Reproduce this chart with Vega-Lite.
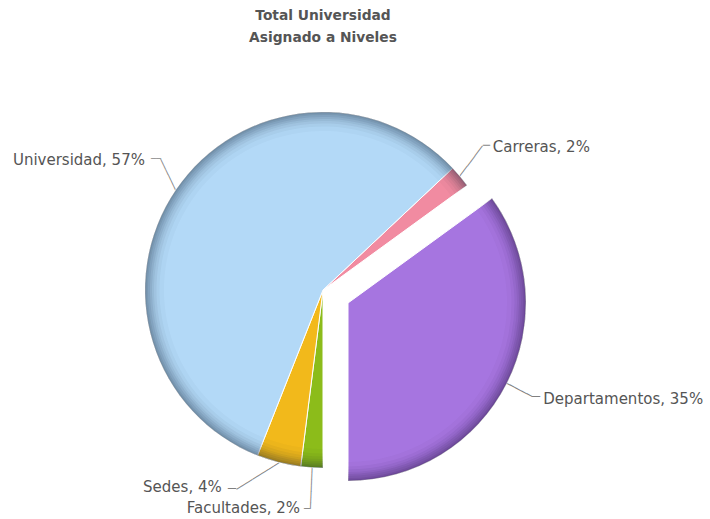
{
  "$schema": "https://vega.github.io/schema/vega-lite/v6.json",
  "width": 646,
  "height": 480,
  "autosize": {"type": "none"},
  "padding": {"left": 0, "top": 50, "right": 64, "bottom": 0},
  "background": "#ffffff",
  "config": {"view": {"stroke": null}, "text": {"font": "DejaVu Sans"}},
  "title": {
    "text": ["Total Universidad", "Asignado a Niveles"],
    "font": "DejaVu Sans",
    "fontSize": 13.8,
    "fontWeight": "bold",
    "color": "#555555",
    "lineHeight": 22,
    "anchor": "middle",
    "frame": "group",
    "baseline": "bottom",
    "offset": -9
  },
  "data": {
    "values": [
      {"name": "Carreras", "value": 2, "label": "Carreras, 2%"},
      {"name": "Departamentos", "value": 35, "label": "Departamentos, 35%"},
      {"name": "Facultades", "value": 2, "label": "Facultades, 2%"},
      {"name": "Sedes", "value": 4, "label": "Sedes, 4%"},
      {"name": "Universidad", "value": 57, "label": "Universidad, 57%"}
    ]
  },
  "encoding": {
    "theta": {"field": "value", "type": "quantitative", "stack": true, "scale": {"domain": [0, 100], "range": [0.8168, 7.0999]}},
    "order": {"field": "name", "type": "ordinal", "sort": "ascending"}
  },
  "layer": [
    {
      "mark": {"type": "text", "radius": 178, "align": "left", "baseline": "middle", "color": "#808080"},
      "encoding": {
        "text": {"condition": [
          {"test": "datum.name==='Universidad'", "value": "──────"},
          {"test": "datum.name==='Carreras'", "value": "──────"},
          {"test": "datum.name==='Departamentos'", "value": "─────────"},
          {"test": "datum.name==='Sedes'", "value": "────────"},
          {"test": "datum.name==='Facultades'", "value": "───────"}
        ], "value": ""},
        "angle": {"condition": [
          {"test": "datum.name==='Universidad'", "value": 244.4},
          {"test": "datum.name==='Carreras'", "value": 306.9},
          {"test": "datum.name==='Departamentos'", "value": 27.5},
          {"test": "datum.name==='Sedes'", "value": 148.1}
        ], "value": 92.5},
        "size": {"condition": [
          {"test": "datum.name==='Universidad'", "value": 9.5},
          {"test": "datum.name==='Carreras'", "value": 10.5},
          {"test": "datum.name==='Departamentos'", "value": 10.5},
          {"test": "datum.name==='Sedes'", "value": 10.4}
        ], "value": 9.8}
      }
    },
    {
      "mark": {"type": "arc", "radius": 178, "stroke": "#ffffff", "strokeWidth": 1},
      "encoding": {
        "color": {"field": "name", "type": "nominal", "legend": null,
          "scale": {"domain": ["Carreras", "Departamentos", "Facultades", "Sedes", "Universidad"],
                    "range": ["#f18ba1", "#a675e0", "#8cbc1a", "#f2b91b", "#b3d9f7"]}},
        "opacity": {"condition": {"test": "datum.name==='Departamentos'", "value": 0}, "value": 1}
      }
    },
    {
      "mark": {"type": "arc", "radius": 178, "stroke": "#ffffff", "strokeWidth": 1, "xOffset": 25, "yOffset": 13},
      "encoding": {
        "color": {"field": "name", "type": "nominal", "legend": null},
        "opacity": {"condition": {"test": "datum.name==='Departamentos'", "value": 1}, "value": 0}
      }
    },
    {"mark": {"type": "arc", "radius": 178, "radius2": 176.5, "fill": "#102038"},
     "encoding": {"opacity": {"condition": {"test": "datum.name==='Departamentos'", "value": 0}, "value": 0.09}}},
    {"mark": {"type": "arc", "radius": 178, "radius2": 175, "fill": "#102038"},
     "encoding": {"opacity": {"condition": {"test": "datum.name==='Departamentos'", "value": 0}, "value": 0.08}}},
    {"mark": {"type": "arc", "radius": 178, "radius2": 173, "fill": "#102038"},
     "encoding": {"opacity": {"condition": {"test": "datum.name==='Departamentos'", "value": 0}, "value": 0.075}}},
    {"mark": {"type": "arc", "radius": 178, "radius2": 171, "fill": "#102038"},
     "encoding": {"opacity": {"condition": {"test": "datum.name==='Departamentos'", "value": 0}, "value": 0.07}}},
    {"mark": {"type": "arc", "radius": 178, "radius2": 169, "fill": "#102038"},
     "encoding": {"opacity": {"condition": {"test": "datum.name==='Departamentos'", "value": 0}, "value": 0.06}}},
    {"mark": {"type": "arc", "radius": 178, "radius2": 166.5, "fill": "#102038"},
     "encoding": {"opacity": {"condition": {"test": "datum.name==='Departamentos'", "value": 0}, "value": 0.05}}},
    {"mark": {"type": "arc", "radius": 178, "radius2": 163.5, "fill": "#102038"},
     "encoding": {"opacity": {"condition": {"test": "datum.name==='Departamentos'", "value": 0}, "value": 0.04}}},
    {"mark": {"type": "arc", "radius": 178, "radius2": 159, "fill": "#102038"},
     "encoding": {"opacity": {"condition": {"test": "datum.name==='Departamentos'", "value": 0}, "value": 0.025}}},
    {"mark": {"type": "arc", "radius": 178, "radius2": 176.5, "fill": "#180c30", "xOffset": 25, "yOffset": 13},
     "encoding": {"opacity": {"condition": {"test": "datum.name==='Departamentos'", "value": 0.09}, "value": 0}}},
    {"mark": {"type": "arc", "radius": 178, "radius2": 175, "fill": "#180c30", "xOffset": 25, "yOffset": 13},
     "encoding": {"opacity": {"condition": {"test": "datum.name==='Departamentos'", "value": 0.08}, "value": 0}}},
    {"mark": {"type": "arc", "radius": 178, "radius2": 173, "fill": "#180c30", "xOffset": 25, "yOffset": 13},
     "encoding": {"opacity": {"condition": {"test": "datum.name==='Departamentos'", "value": 0.075}, "value": 0}}},
    {"mark": {"type": "arc", "radius": 178, "radius2": 171, "fill": "#180c30", "xOffset": 25, "yOffset": 13},
     "encoding": {"opacity": {"condition": {"test": "datum.name==='Departamentos'", "value": 0.07}, "value": 0}}},
    {"mark": {"type": "arc", "radius": 178, "radius2": 169, "fill": "#180c30", "xOffset": 25, "yOffset": 13},
     "encoding": {"opacity": {"condition": {"test": "datum.name==='Departamentos'", "value": 0.06}, "value": 0}}},
    {"mark": {"type": "arc", "radius": 178, "radius2": 166.5, "fill": "#180c30", "xOffset": 25, "yOffset": 13},
     "encoding": {"opacity": {"condition": {"test": "datum.name==='Departamentos'", "value": 0.05}, "value": 0}}},
    {"mark": {"type": "arc", "radius": 178, "radius2": 163.5, "fill": "#180c30", "xOffset": 25, "yOffset": 13},
     "encoding": {"opacity": {"condition": {"test": "datum.name==='Departamentos'", "value": 0.04}, "value": 0}}},
    {"mark": {"type": "arc", "radius": 178, "radius2": 159, "fill": "#180c30", "xOffset": 25, "yOffset": 13},
     "encoding": {"opacity": {"condition": {"test": "datum.name==='Departamentos'", "value": 0.025}, "value": 0}}},
    {"mark": {"type": "text", "radius": 178, "align": "left", "baseline": "middle", "color": "#808080", "fontSize": 8.3, "dx": -24.8, "dy": -30.9},
     "encoding": {"text": {"condition": {"test": "datum.name==='Universidad'", "value": "──"}, "value": ""}}},
    {"mark": {"type": "text", "radius": 178, "align": "left", "baseline": "middle", "color": "#808080", "fontSize": 11.6, "dx": 22.9, "dy": -30.5},
     "encoding": {"text": {"condition": {"test": "datum.name==='Carreras'", "value": "─"}, "value": ""}}},
    {"mark": {"type": "text", "radius": 178, "align": "left", "baseline": "middle", "color": "#808080", "fontSize": 13.3, "dx": 50.4, "dy": 26.2},
     "encoding": {"text": {"condition": {"test": "datum.name==='Departamentos'", "value": "─"}, "value": ""}}},
    {"mark": {"type": "text", "radius": 178, "align": "left", "baseline": "middle", "color": "#808080", "fontSize": 13.3, "dx": -50.7, "dy": 26.6},
     "encoding": {"text": {"condition": {"test": "datum.name==='Sedes'", "value": "─"}, "value": ""}}},
    {"mark": {"type": "text", "radius": 178, "align": "left", "baseline": "middle", "color": "#808080", "fontSize": 10, "dx": -7.8, "dy": 41.4},
     "encoding": {"text": {"condition": {"test": "datum.name==='Facultades'", "value": "─"}, "value": ""}}},
    {"mark": {"type": "text", "radius": 178, "align": "right", "baseline": "middle", "color": "#555555", "fontSize": 15, "dx": -30.8, "dy": -29.9},
     "encoding": {"text": {"condition": {"test": "datum.name==='Universidad'", "field": "label"}, "value": ""}}},
    {"mark": {"type": "text", "radius": 178, "align": "left", "baseline": "middle", "color": "#555555", "fontSize": 15, "dx": 32.6, "dy": -29.5},
     "encoding": {"text": {"condition": {"test": "datum.name==='Carreras'", "field": "label"}, "value": ""}}},
    {"mark": {"type": "text", "radius": 178, "align": "left", "baseline": "middle", "color": "#555555", "fontSize": 15, "dx": 61.7, "dy": 28.2},
     "encoding": {"text": {"condition": {"test": "datum.name==='Departamentos'", "field": "label"}, "value": ""}}},
    {"mark": {"type": "text", "radius": 178, "align": "right", "baseline": "middle", "color": "#555555", "fontSize": 15, "dx": -57, "dy": 24.3},
     "encoding": {"text": {"condition": {"test": "datum.name==='Sedes'", "field": "label"}, "value": ""}}},
    {"mark": {"type": "text", "radius": 178, "align": "right", "baseline": "middle", "color": "#555555", "fontSize": 15, "dx": -11.8, "dy": 40.7},
     "encoding": {"text": {"condition": {"test": "datum.name==='Facultades'", "field": "label"}, "value": ""}}}
  ]
}
